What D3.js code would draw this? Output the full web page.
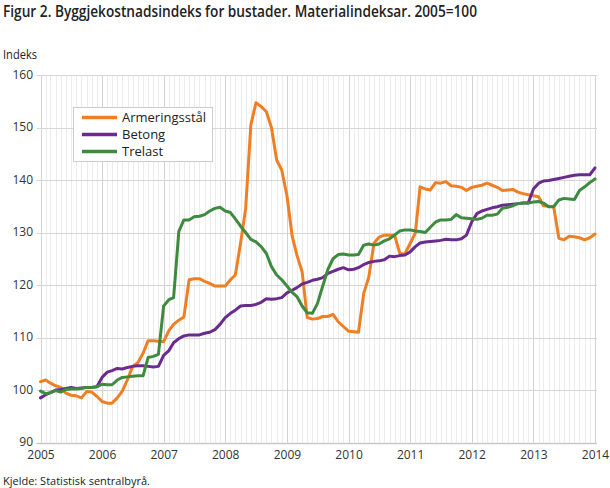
<!DOCTYPE html>
<html>
<head>
<meta charset="utf-8">
<script src="https://cdn.jsdelivr.net/npm/d3@7"></script>
<style>
  body { margin: 0; background: #fff; }
  svg { display: block; font-family: "Open Sans", sans-serif; }
</style>
</head>
<body>
<svg id="chart" width="610" height="488"></svg>
<script>
// ---- Data (monthly, Jan 2005 – Jan 2014), index 2005=100 ----
const startMonth = "2005-01";
const seriesNames = ["Armeringsstål", "Betong", "Trelast"];
const seriesColors = ["#f07f23", "#6b2b8e", "#3e8b3f"];

const armeringsstal = [
  101.6, 101.9, 101.3, 100.8, 100.5, 99.4, 99.0, 98.9, 98.5, 99.7, 99.6, 98.8,
  97.8, 97.5, 97.5, 98.5, 99.8, 102.0, 104.5, 105.2, 107.0, 109.4, 109.4, 109.3,
  109.2, 111.3, 112.5, 113.3, 113.9, 121.0, 121.2, 121.2, 120.7, 120.3, 119.8, 119.8,
  119.8, 121.0, 121.9, 128.0, 134.5, 150.5, 154.7, 154.0, 153.0, 150.0, 143.8, 141.9,
  137.0, 129.3, 125.7, 122.5, 113.8, 113.5, 113.6, 114.0, 114.0, 114.4, 113.0, 112.1,
  111.2, 111.1, 111.0, 118.4, 121.5, 128.0, 129.1, 129.5, 129.5, 129.5, 126.0, 125.9,
  127.9, 129.9, 138.7, 138.3, 138.1, 139.5, 139.4, 139.7, 138.9, 138.8, 138.6, 138.0,
  138.6, 138.8, 139.0, 139.4, 139.0, 138.6, 138.0, 138.1, 138.2, 137.7, 137.4, 137.2,
  137.0, 136.8, 135.1, 135.0, 134.9, 128.9, 128.6, 129.3, 129.2, 129.0, 128.6, 129.0,
  129.7
];
const betong = [
  98.5, 99.1, 99.5, 100.0, 100.1, 100.3, 100.5, 100.3, 100.4, 100.5, 100.5, 100.6,
  102.4, 103.4, 103.7, 104.1, 104.0, 104.3, 104.5, 104.6, 104.6, 104.5, 104.4, 104.5,
  106.6, 107.5, 109.0, 109.8, 110.3, 110.5, 110.5, 110.5, 110.8, 111.0, 111.5, 112.5,
  113.8, 114.6, 115.2, 116.0, 116.1, 116.1, 116.3, 116.7, 117.4, 117.3, 117.4, 117.6,
  118.5, 119.0, 119.5, 120.2, 120.5, 120.9, 121.1, 121.4, 122.2, 122.6, 123.0, 123.3,
  122.9, 123.0, 123.3, 123.9, 124.3, 124.5, 124.6, 124.8, 125.5, 125.4, 125.6, 125.7,
  126.3, 127.3, 128.0, 128.2, 128.3, 128.4, 128.5, 128.7, 128.6, 128.6, 128.8, 129.5,
  132.0, 133.6, 134.1, 134.4, 134.7, 134.9, 135.2, 135.3, 135.4, 135.5, 135.6, 135.6,
  138.3, 139.4, 139.8, 139.9, 140.1, 140.3, 140.5, 140.7, 140.9, 141.0, 141.0, 141.0,
  142.3
];
const trelast = [
  99.8, 99.3, 99.5, 99.9, 99.6, 100.1, 100.2, 100.2, 100.3, 100.5, 100.5, 100.6,
  101.1, 101.0, 101.0, 101.9, 102.4, 102.5, 102.6, 102.7, 102.7, 106.2, 106.4, 106.8,
  116.0, 117.2, 117.6, 130.2, 132.4, 132.4, 133.0, 133.1, 133.4, 134.1, 134.6, 134.8,
  134.1, 133.8, 132.6, 131.2, 130.0, 128.7, 128.2, 127.3, 126.0, 123.5, 121.9, 121.0,
  119.8, 118.6, 117.8, 116.0, 114.7, 114.6, 116.5, 119.8, 123.0, 125.0, 125.8, 125.9,
  125.7, 125.7, 125.8, 127.6, 127.8, 127.6, 127.8, 128.4, 128.8, 129.5, 130.3, 130.5,
  130.5, 130.3, 130.2, 130.0, 131.0, 132.0, 132.4, 132.4, 132.5, 133.4, 132.8, 132.7,
  132.6, 132.5, 132.7, 133.3, 133.3, 133.5, 134.6, 134.8, 135.1, 135.5, 135.6, 135.6,
  135.8, 135.9, 135.6, 134.9, 134.9, 136.2, 136.5, 136.4, 136.3, 138.0, 138.7, 139.5,
  140.2
];
const yearTicks = [2005, 2006, 2007, 2008, 2009, 2010, 2011, 2012, 2013, 2014];
const yTicks = [90, 100, 110, 120, 130, 140, 150, 160];

// ---- Layout ----
const svg = d3.select("#chart");
const plotLeft = 40.5, plotRight = 595, plotTop = 75, plotBottom = 442.5;

const parse = d3.timeParse("%Y-%m");
const t0 = parse(startMonth);
const dates = armeringsstal.map((_, i) => d3.timeMonth.offset(t0, i));

const x = d3.scaleTime()
  .domain([new Date(2005, 0, 1), new Date(2014, 0, 1)])
  .range([plotLeft, plotRight]);
const y = d3.scaleLinear().domain([90, 160]).range([plotBottom, plotTop]);

// Monthly minor gridlines
const months = d3.timeMonth.range(new Date(2005, 0, 1), new Date(2014, 1, 1));
svg.append("g").selectAll("line").data(months).join("line")
  .attr("x1", d => Math.round(x(d)) + 0.5).attr("x2", d => Math.round(x(d)) + 0.5)
  .attr("y1", plotTop).attr("y2", plotBottom)
  .attr("stroke", d => d.getMonth() === 0 ? "#d2d2d2" : "#ececec")
  .attr("stroke-width", 1);

// Horizontal gridlines
svg.append("g").selectAll("line").data(yTicks).join("line")
  .attr("x1", plotLeft - 4).attr("x2", plotRight + 2)
  .attr("y1", d => Math.round(y(d)) + 0.5).attr("y2", d => Math.round(y(d)) + 0.5)
  .attr("stroke", d => d === 90 ? "#c8c8c8" : "#d6d6d6")
  .attr("stroke-width", d => d === 90 ? 1.5 : 1);

// Y axis labels
svg.append("g").selectAll("text").data(yTicks).join("text")
  .attr("x", 33).attr("y", d => y(d) + 3.5)
  .attr("text-anchor", "end")
  .attr("font-size", 12).attr("fill", "#333")
  .text(d => d);

// X axis labels
const xAxis = d3.axisBottom(x)
  .tickValues(yearTicks.map(yr => new Date(yr, 0, 1)))
  .tickFormat(d3.timeFormat("%Y"))
  .tickSize(0).tickPadding(8);
const gx = svg.append("g").attr("transform", `translate(0,${plotBottom})`).call(xAxis);
gx.select(".domain").remove();
gx.selectAll("text").attr("font-size", 12).attr("fill", "#333")
  .attr("font-family", "Open Sans, sans-serif");

// Lines
const line = d3.line().x((d, i) => x(dates[i])).y(d => y(d)).curve(d3.curveLinear);
[armeringsstal, betong, trelast].forEach((vals, k) => {
  svg.append("path").datum(vals)
    .attr("d", line)
    .attr("fill", "none")
    .attr("stroke", seriesColors[k])
    .attr("stroke-width", 3)
    .attr("stroke-linejoin", "round")
    .attr("stroke-linecap", "round");
});

// Legend
const lg = svg.append("g");
lg.append("rect").attr("x", 73.5).attr("y", 107.5).attr("width", 139).attr("height", 54)
  .attr("fill", "#fff").attr("stroke", "#cccccc");
seriesNames.forEach((name, k) => {
  const ly = 117.5 + k * 17;
  lg.append("line").attr("x1", 82).attr("x2", 117).attr("y1", ly).attr("y2", ly)
    .attr("stroke", seriesColors[k]).attr("stroke-width", 3.5);
  lg.append("text").attr("x", 122).attr("y", ly + 4.5)
    .attr("font-size", 13).attr("fill", "#222").text(name);
});

// Titles
svg.append("text").attr("x", 3).attr("y", 17)
  .attr("font-size", 16).attr("font-weight", 600).attr("fill", "#222")
  .attr("textLength", 474).attr("lengthAdjust", "spacingAndGlyphs")
  .text("Figur 2. Byggjekostnadsindeks for bustader. Materialindeksar. 2005=100");
svg.append("text").attr("x", 3).attr("y", 59)
  .attr("font-size", 12).attr("fill", "#222")
  .attr("textLength", 34).attr("lengthAdjust", "spacingAndGlyphs")
  .text("Indeks");
svg.append("text").attr("x", 3).attr("y", 485)
  .attr("font-size", 11).attr("fill", "#222").text("Kjelde: Statistisk sentralbyrå.");
</script>
</body>
</html>
